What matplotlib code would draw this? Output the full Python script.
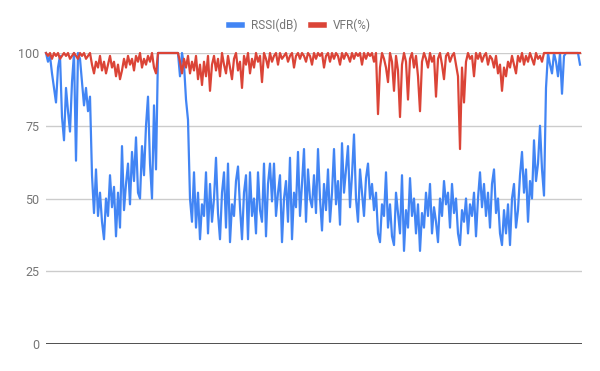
import matplotlib.pyplot as plt
from matplotlib.lines import Line2D
import numpy as np

# RSSI(dB) samples, left to right
rssi = [
    100, 97, 99, 93, 88, 83, 95, 99, 78, 70,
    88, 80, 73, 90, 100, 63, 100, 98, 90, 82,
    88, 80, 85, 58, 45, 60, 44, 52, 42, 36,
    50, 44, 58, 47, 54, 37, 52, 40, 68, 46,
    55, 62, 48, 66, 56, 71, 52, 50, 68, 58,
    75, 85, 62, 50, 82, 60, 100, 100, 100, 100,
    100, 100, 100, 100, 100, 100, 100, 92, 100, 96,
    84, 77, 50, 42, 59, 40, 52, 36, 48, 44,
    59, 38, 55, 42, 50, 64, 45, 36, 52, 59,
    40, 62, 35, 48, 44, 56, 61, 47, 36, 52,
    58, 36, 59, 44, 50, 38, 59, 46, 42, 62,
    37, 55, 62, 49, 62, 44, 52, 58, 35, 50,
    56, 42, 64, 36, 52, 47, 66, 44, 55, 67,
    42, 60, 50, 47, 58, 45, 67, 50, 39, 55,
    46, 60, 42, 52, 67, 48, 56, 41, 69, 52,
    60, 68, 47, 58, 72, 50, 42, 60, 52, 44,
    57, 62, 50, 55, 46, 52, 38, 35, 48, 44,
    59, 40, 48, 37, 34, 52, 45, 38, 58, 32,
    46, 40, 57, 44, 50, 38, 48, 32, 45, 40,
    52, 44, 55, 38, 47, 42, 35, 50, 44, 56,
    48, 52, 40, 55, 45, 50, 38, 34, 46, 42,
    50, 38, 48, 44, 52, 37, 50, 59, 47, 55,
    44, 52, 40, 55, 60, 45, 50, 38, 34, 46,
    38, 48, 34, 50, 55, 40, 46, 58, 66, 52,
    60, 42, 56, 50, 70, 56, 62, 75, 60, 51,
    88, 100, 96, 93, 100, 97, 92, 100, 86, 99,
    100, 100, 100, 100, 100, 100, 100, 96,
]

# VFR(%) samples, left to right
vfr = [
    100, 99, 100, 98, 100, 99, 100, 98, 99, 100,
    99, 100, 98, 99, 100, 99, 98, 100, 99, 100,
    98, 99, 100, 96, 93, 97, 95, 99, 94, 97,
    93, 96, 99, 95, 97, 92, 96, 91, 94, 98,
    95, 99, 96, 98, 94, 99, 97, 100, 95, 98,
    96, 99, 97, 100, 95, 93, 100, 100, 100, 100,
    100, 100, 100, 100, 100, 100, 100, 97, 93, 98,
    95, 99, 93, 97, 94, 99, 91, 96, 89, 97,
    92, 99, 87, 96, 99, 94, 98, 92, 100, 96,
    93, 99, 95, 91, 98, 100, 94, 97, 88, 99,
    96, 100, 93, 98, 95, 100, 97, 99, 90, 100,
    98, 95, 100, 97, 99, 100, 96, 100, 98, 99,
    100, 97, 99, 100, 95, 99, 100, 98, 100, 99,
    97, 100, 99, 96, 100, 98, 100, 99, 100, 95,
    99, 100, 97, 100, 98, 100, 99, 96, 100, 98,
    100, 99, 97, 100, 98, 100, 99, 100, 96, 100,
    98, 100, 99, 100, 97, 100, 79, 95, 100, 98,
    95, 90, 100, 97, 87, 99, 94, 78, 96, 100,
    97, 84, 98, 100, 95, 99, 92, 80, 97, 100,
    98, 95, 100, 97, 99, 85, 98, 100, 96, 91,
    99, 100, 97, 99, 100, 96, 92, 67, 95, 83,
    97, 100, 98, 99, 92, 100, 98, 100, 97, 99,
    100, 96, 99, 98, 95, 99, 93, 96, 87, 95,
    92, 97, 95, 99, 96, 93, 99, 97, 100, 96,
    99, 97, 100, 98, 96, 100, 98, 99, 97, 100,
    100, 100, 100, 100, 100, 100, 100, 100, 100, 100,
    100, 100, 100, 100, 100, 100, 100, 100,
]

yticks = [0, 25, 50, 75, 100]

BLUE = '#4285F4'
RED = '#DB4437'
GREY = '#757575'

plt.rcParams['font.family'] = ['Roboto', 'DejaVu Sans']

fig = plt.figure(figsize=(6, 3.71), dpi=100)
ax = fig.add_axes([46 / 600, 27 / 371, 536 / 600, 291 / 371])

x = np.arange(len(rssi))
ax.plot(x, rssi, color=BLUE, lw=1.6, clip_on=False, zorder=3)
ax.plot(x, vfr, color=RED, lw=1.6, clip_on=False, zorder=4)

ax.set_xlim(0, len(rssi))
ax.set_ylim(0, 100)
ax.set_yticks(yticks)
ax.set_xticks([])
ax.tick_params(axis='y', length=0, pad=5, labelsize=9, labelcolor=GREY)
ax.grid(axis='y', color='#cccccc', lw=1)
ax.set_axisbelow(True)
for s in ax.spines.values():
    s.set_visible(False)
ax.axhline(0, color='#333333', lw=1.2, zorder=2)

handles = [Line2D([], [], color=BLUE, lw=4),
           Line2D([], [], color=RED, lw=4)]
fig.legend(handles, ['RSSI(dB)', 'VFR(%)'], loc='center',
           bbox_to_anchor=(0.5, 1 - 25 / 371), ncol=2, frameon=False,
           fontsize=8.5, labelcolor=GREY, handlelength=1.1,
           handletextpad=0.7, columnspacing=1.2)

fig.savefig('out.png', dpi=100)
